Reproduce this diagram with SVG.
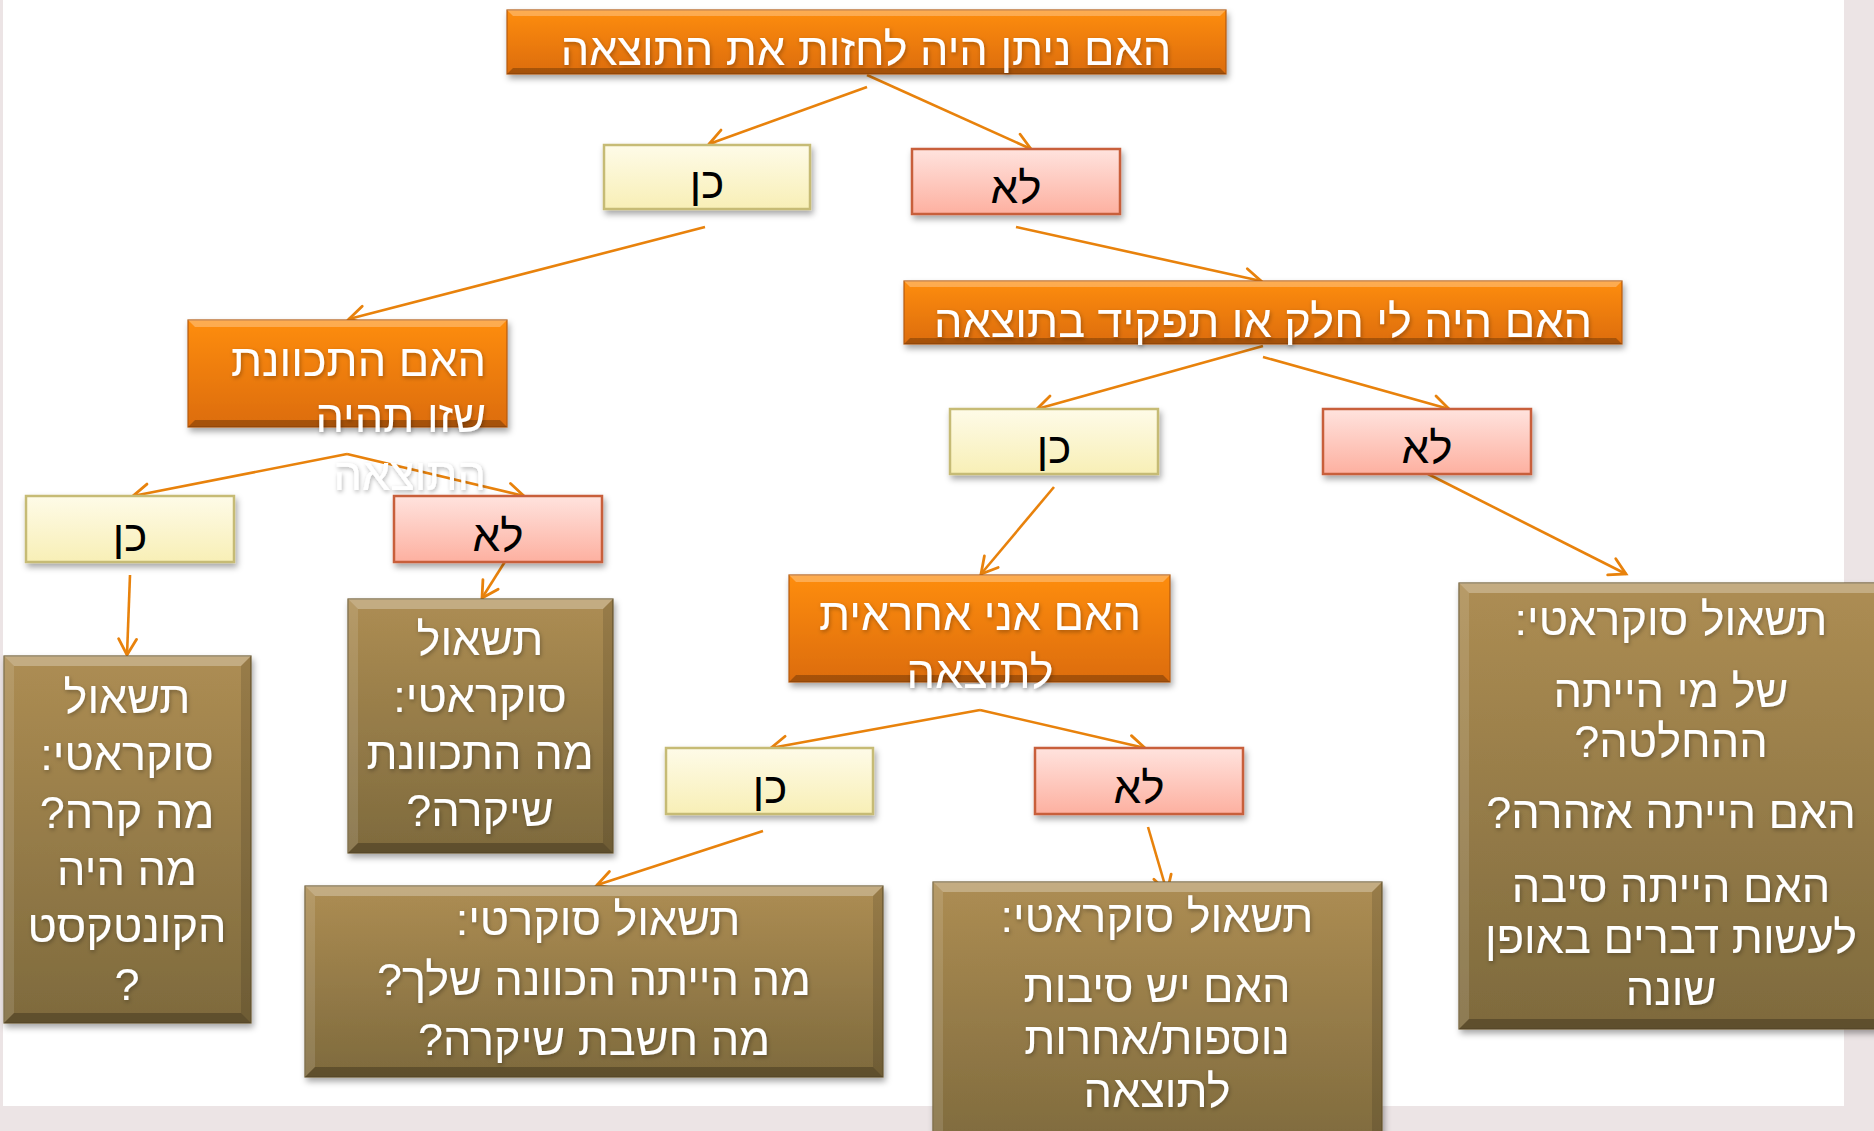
<svg xmlns="http://www.w3.org/2000/svg" width="1874" height="1131" viewBox="0 0 1874 1131">
<defs>
<linearGradient id="gOr" x1="0" y1="0" x2="0" y2="1"><stop offset="0" stop-color="#fe8d0b"/><stop offset="1" stop-color="#dc6c08"/></linearGradient>
<linearGradient id="gBr" x1="0" y1="0" x2="0" y2="1"><stop offset="0" stop-color="#ad8d53"/><stop offset="1" stop-color="#7e6a3d"/></linearGradient>
<linearGradient id="gYe" x1="0" y1="0" x2="0" y2="1"><stop offset="0" stop-color="#fefbe8"/><stop offset="1" stop-color="#f8efb6"/></linearGradient>
<linearGradient id="gNo" x1="0" y1="0" x2="0" y2="1"><stop offset="0" stop-color="#ffe3de"/><stop offset="1" stop-color="#fdb0a0"/></linearGradient>
<filter id="sh" x="-10%" y="-10%" width="130%" height="140%"><feDropShadow dx="2" dy="4" stdDeviation="3" flood-color="#000" flood-opacity="0.35"/></filter>
<filter id="ts" x="-10%" y="-20%" width="120%" height="150%"><feDropShadow dx="1" dy="2" stdDeviation="2" flood-color="#000" flood-opacity="0.3"/></filter>
<marker id="ah" markerUnits="userSpaceOnUse" markerWidth="22" markerHeight="22" refX="18" refY="10" orient="auto" overflow="visible"><path d="M2,1 L18,10 L2,19" fill="none" stroke="#e8820c" stroke-width="2.8" stroke-linecap="round"/></marker>
</defs>
<style>
text{font-family:"Liberation Sans","DejaVu Sans",sans-serif;direction:rtl;}
.w{fill:#fff;font-size:45px;filter:url(#ts);}
.k{fill:#000;font-size:44px;}
.or{fill:url(#gOr);stroke:#b45a0c;stroke-width:1.2;filter:url(#sh);}
.br{fill:url(#gBr);stroke:#6e5c34;stroke-width:1.2;filter:url(#sh);}
.ye{fill:url(#gYe);stroke:#c6bb74;stroke-width:2.5;filter:url(#sh);}
.no{fill:url(#gNo);stroke:#c85f3a;stroke-width:2.5;filter:url(#sh);}
.bl{fill:#fff;opacity:0.28;}
.bs{fill:#fff;opacity:0.12;}
.dk{fill:#000;opacity:0.12;}
.db{fill:#000;opacity:0.25;}
.c{fill:none;stroke:#e8820c;stroke-width:2.6;marker-end:url(#ah);}
</style>
<rect x="0" y="0" width="1874" height="1131" fill="#ece4e5"/>
<rect x="3" y="0" width="1841" height="1106" fill="#ffffff"/>

<g id="connectors">
<line class="c" x1="867" y1="87" x2="709" y2="144"/>
<line class="c" x1="867" y1="75" x2="1031" y2="149"/>
<line class="c" x1="705" y1="227" x2="349" y2="319"/>
<line class="c" x1="1016" y1="227" x2="1261" y2="281"/>
<line class="c" x1="1263" y1="346" x2="1037" y2="409"/>
<line class="c" x1="1263" y1="357" x2="1449" y2="409"/>
<line class="c" x1="1054" y1="487" x2="981" y2="574"/>
<line class="c" x1="1428" y1="474" x2="1626" y2="574"/>
<line class="c" x1="347" y1="454" x2="133" y2="496"/>
<line class="c" x1="347" y1="454" x2="524" y2="496"/>
<line class="c" x1="130" y1="575" x2="127" y2="655"/>
<line class="c" x1="506" y1="560" x2="482" y2="598"/>
<line class="c" x1="980" y1="710" x2="771" y2="748"/>
<line class="c" x1="980" y1="710" x2="1145" y2="748"/>
<line class="c" x1="763" y1="831" x2="597" y2="885"/>
<line class="c" x1="1148" y1="827" x2="1167" y2="892"/>
</g>

<g id="q1">
<rect class="or" x="507" y="10" width="719" height="64"/>
<polygon class="bl" points="507,10 1226,10 1220,16 513,16"/>
<polygon class="db" points="507,74 513,68 1220,68 1226,74"/>
<text class="w" x="866" y="65" text-anchor="middle">האם ניתן היה לחזות את התוצאה</text>
</g>

<g id="yes1">
<rect class="ye" x="604" y="145" width="206" height="64"/>
<text class="k" x="707" y="198" text-anchor="middle">כן</text>
</g>
<g id="no1">
<rect class="no" x="912" y="149" width="208" height="65"/>
<text class="k" x="1016" y="203" text-anchor="middle">לא</text>
</g>

<g id="q2">
<rect class="or" x="188" y="320" width="319" height="107"/>
<polygon class="bl" points="188,320 507,320 500,327 195,327"/>
<polygon class="db" points="188,427 195,420 500,420 507,427"/>
<text class="w" x="486" y="376" text-anchor="start">האם התכוונת</text>
<text class="w" x="486" y="432" text-anchor="start">שזו תהיה</text>
<text class="w" x="486" y="490" text-anchor="start">התוצאה</text>
</g>

<g id="q3">
<rect class="or" x="904" y="281" width="718" height="63"/>
<polygon class="bl" points="904,281 1622,281 1616,287 910,287"/>
<polygon class="db" points="904,344 910,338 1616,338 1622,344"/>
<text class="w" x="1263" y="337" text-anchor="middle">האם היה לי חלק או תפקיד בתוצאה</text>
</g>

<g id="yes2">
<rect class="ye" x="950" y="409" width="208" height="65"/>
<text class="k" x="1054" y="463" text-anchor="middle">כן</text>
</g>
<g id="no2">
<rect class="no" x="1323" y="409" width="208" height="65"/>
<text class="k" x="1427" y="463" text-anchor="middle">לא</text>
</g>

<g id="yes3">
<rect class="ye" x="26" y="496" width="208" height="66"/>
<text class="k" x="130" y="551" text-anchor="middle">כן</text>
</g>
<g id="no3">
<rect class="no" x="394" y="496" width="208" height="66"/>
<text class="k" x="498" y="551" text-anchor="middle">לא</text>
</g>

<g id="s1">
<rect class="br" x="4" y="656" width="247" height="367"/>
<polygon class="bl" points="4,656 251,656 241,666 14,666"/>
<polygon class="bs" points="4,656 14,666 14,1013 4,1023"/>
<polygon class="dk" points="251,656 251,1023 241,1013 241,666"/>
<polygon class="db" points="4,1023 14,1013 241,1013 251,1023"/>
<text class="w" x="127" y="713" text-anchor="middle">תשאול</text>
<text class="w" x="127" y="770" text-anchor="middle">סוקראטי:</text>
<text class="w" x="127" y="828" text-anchor="middle">מה קרה?</text>
<text class="w" x="127" y="885" text-anchor="middle">מה היה</text>
<text class="w" x="127" y="942" text-anchor="middle">הקונטקסט</text>
<text class="w" x="127" y="1000" text-anchor="middle">?</text>
</g>

<g id="s2">
<rect class="br" x="348" y="599" width="265" height="254"/>
<polygon class="bl" points="348,599 613,599 603,609 358,609"/>
<polygon class="bs" points="348,599 358,609 358,843 348,853"/>
<polygon class="dk" points="613,599 613,853 603,843 603,609"/>
<polygon class="db" points="348,853 358,843 603,843 613,853"/>
<text class="w" x="480" y="655" text-anchor="middle">תשאול</text>
<text class="w" x="480" y="712" text-anchor="middle">סוקראטי:</text>
<text class="w" x="480" y="769" text-anchor="middle">מה התכוונת</text>
<text class="w" x="480" y="826" text-anchor="middle">שיקרה?</text>
</g>

<g id="q4">
<rect class="or" x="789" y="575" width="381" height="107"/>
<polygon class="bl" points="789,575 1170,575 1163,582 796,582"/>
<polygon class="db" points="789,682 796,675 1163,675 1170,682"/>
<text class="w" x="980" y="630" text-anchor="middle">האם אני אחראית</text>
<text class="w" x="980" y="688" text-anchor="middle">לתוצאה</text>
</g>

<g id="s5">
<rect class="br" x="1459" y="583" width="440" height="446"/>
<polygon class="bl" points="1459,583 1899,583 1889,593 1469,593"/>
<polygon class="bs" points="1459,583 1469,593 1469,1019 1459,1029"/>
<polygon class="db" points="1459,1029 1469,1019 1889,1019 1899,1029"/>
<text class="w" x="1671" y="635" text-anchor="middle">תשאול סוקראטי:</text>
<text class="w" x="1671" y="707" text-anchor="middle">של מי הייתה</text>
<text class="w" x="1671" y="757" text-anchor="middle">ההחלטה?</text>
<text class="w" x="1671" y="828" text-anchor="middle">האם הייתה אזהרה?</text>
<text class="w" x="1671" y="902" text-anchor="middle">האם הייתה סיבה</text>
<text class="w" x="1671" y="953" text-anchor="middle">לעשות דברים באופן</text>
<text class="w" x="1671" y="1005" text-anchor="middle">שונה</text>
</g>

<g id="yes4">
<rect class="ye" x="666" y="748" width="207" height="66"/>
<text class="k" x="770" y="803" text-anchor="middle">כן</text>
</g>
<g id="no4">
<rect class="no" x="1035" y="748" width="208" height="66"/>
<text class="k" x="1139" y="803" text-anchor="middle">לא</text>
</g>

<g id="s3">
<rect class="br" x="305" y="886" width="578" height="191"/>
<polygon class="bl" points="305,886 883,886 873,896 315,896"/>
<polygon class="bs" points="305,886 315,896 315,1067 305,1077"/>
<polygon class="dk" points="883,886 883,1077 873,1067 873,896"/>
<polygon class="db" points="305,1077 315,1067 873,1067 883,1077"/>
<text class="w" x="598" y="935" text-anchor="middle">תשאול סוקרטי:</text>
<text class="w" x="594" y="995" text-anchor="middle">מה הייתה הכוונה שלך?</text>
<text class="w" x="594" y="1055" text-anchor="middle">מה חשבת שיקרה?</text>
</g>

<g id="s4">
<rect class="br" x="933" y="882" width="449" height="270"/>
<polygon class="bl" points="933,882 1382,882 1372,892 943,892"/>
<polygon class="bs" points="933,882 943,892 943,1152 933,1152"/>
<polygon class="dk" points="1382,882 1382,1152 1372,1152 1372,892"/>
<text class="w" x="1157" y="932" text-anchor="middle">תשאול סוקראטי:</text>
<text class="w" x="1157" y="1002" text-anchor="middle">האם יש סיבות</text>
<text class="w" x="1157" y="1054" text-anchor="middle">נוספות/אחרות</text>
<text class="w" x="1157" y="1107" text-anchor="middle">לתוצאה</text>
</g>
</svg>
